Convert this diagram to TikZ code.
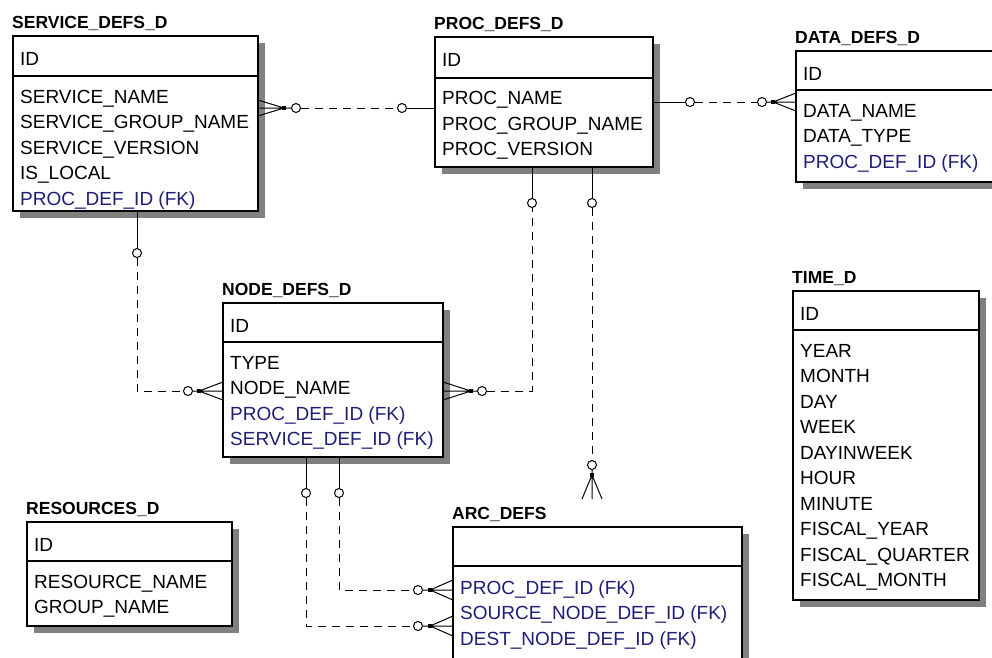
\documentclass[tikz,border=0pt]{standalone}
\usepackage{fontspec}
\setmainfont{Liberation Sans}
\usetikzlibrary{shadows}
\definecolor{fkblue}{RGB}{30,30,120}
\definecolor{shadowgray}{RGB}{128,128,128}
\newcommand\fkc{\color{fkblue}}

\tikzset{
  ent/.style={draw=black, line width=1.2pt, fill=white, rectangle, inner sep=0pt,
    outer sep=0pt, anchor=north west,
    general shadow={fill=shadowgray, shadow xshift=7pt, shadow yshift=-7pt}},
  sepline/.style={line width=1.2pt},
  ttl/.style={anchor=base west, inner sep=0pt, font=\fontsize{17.5}{20}\selectfont\bfseries},
  fld/.style={anchor=base west, inner sep=0pt, font=\fontsize{19}{22}\selectfont},
  rel/.style={line width=1pt},
  reldash/.style={line width=1pt, dash pattern=on 8pt off 6pt},
  opt/.style={circle, draw=black, fill=white, line width=1pt, minimum size=9pt, inner sep=0pt},
  knot/.style={rectangle, fill=black, minimum size=4pt, inner sep=0pt},
}

% entity box: name, left, top, right, separator, bottom, title, key
\newcommand\erentity[8]{%
  \node[ent, minimum width={(#4-#2)*1pt}, minimum height={(#6-#3)*1pt}] (#1) at (#2,#3) {};
  \draw[sepline] (#1.west |- 0,#5) -- (#1.east |- 0,#5);
  \node[ttl] (#1-title) at (#2-1,#3-8) {#7};
  \node[fld] (#1-key) at (#2+7,#3+29) {#8};
}
% attribute rows: name, x, first baseline, list
\newcommand\erfields[4]{%
  \foreach \f [count=\i from 0] in {#4}
    \node[fld] (#1-f\i) at (#2,#3+25.5*\i) {\f};
}

\begin{document}
\begin{tikzpicture}[x=1pt, y=-1pt]
\useasboundingbox (0,0) rectangle (992,657);
\fill[white] (0,0) rectangle (992,657);

% ---------- entities ----------
\erentity{svc}{13}{36}{258}{76}{211}{SERVICE\_DEFS\_D}{ID}
\erfields{svc}{20}{103}{SERVICE\_NAME, SERVICE\_GROUP\_NAME, SERVICE\_VERSION, IS\_LOCAL, {\fkc PROC\_DEF\_ID (FK)}}

\erentity{proc}{435}{37}{653}{78}{167}{PROC\_DEFS\_D}{ID}
\erfields{proc}{442}{104.5}{PROC\_NAME, PROC\_GROUP\_NAME, PROC\_VERSION}

\erentity{data}{796}{51}{1000}{90}{182}{DATA\_DEFS\_D}{ID}
\erfields{data}{803}{117}{DATA\_NAME, DATA\_TYPE, {\fkc PROC\_DEF\_ID (FK)}}

\erentity{nd}{223}{303}{443}{342}{457}{NODE\_DEFS\_D}{ID}
\erfields{nd}{230}{369}{TYPE, NODE\_NAME, {\fkc PROC\_DEF\_ID (FK)}, {\fkc SERVICE\_DEF\_ID (FK)}}

\erentity{res}{27}{522}{232}{561}{626}{RESOURCES\_D}{ID}
\erfields{res}{34}{588}{RESOURCE\_NAME, GROUP\_NAME}

\erentity{tm}{793}{291}{979}{330}{600}{TIME\_D}{ID}
\erfields{tm}{800}{357}{YEAR, MONTH, DAY, WEEK, DAYINWEEK, HOUR, MINUTE, FISCAL\_YEAR, FISCAL\_QUARTER, FISCAL\_MONTH}

\erentity{arc}{453}{527}{742}{566}{668}{ARC\_DEFS}{}
\erfields{arc}{460}{594}{{\fkc PROC\_DEF\_ID (FK)}, {\fkc SOURCE\_NODE\_DEF\_ID (FK)}, {\fkc DEST\_NODE\_DEF\_ID (FK)}}

% ---------- relationships ----------
% PROC_DEFS_D -> SERVICE_DEFS_D
\node[knot] (k1) at (284,108) {};
\node[opt] (o1a) at (296,108) {};
\node[opt] (o1b) at (402,108) {};
\draw[rel] (svc.east |- 0,100) -- (k1.center) -- (svc.east |- 0,116)
           (svc.east |- k1) -- (k1.center) -- (o1a);
\draw[reldash] (o1a) -- (o1b);
\draw[rel] (o1b) -- (o1b -| proc.west);

% PROC_DEFS_D -> DATA_DEFS_D
\node[opt] (o2a) at (690,102) {};
\node[opt] (o2b) at (762,102) {};
\node[knot] (k2) at (773,102) {};
\draw[rel] (o2a -| proc.east) -- (o2a);
\draw[reldash] (o2a) -- (o2b);
\draw[rel] (o2b) -- (k2.center) -- (data.west |- 0,93)
           (k2.center) -- (data.west |- 0,111)
           (k2.center) -- (data.west |- k2);

% SERVICE_DEFS_D -> NODE_DEFS_D
\node[opt] (o3a) at (137,253) {};
\coordinate (b3) at (137,391);
\node[opt] (o3b) at (188,391) {};
\node[knot] (k3) at (199,391) {};
\draw[rel] (svc.south -| o3a) -- (o3a);
\draw[reldash] (o3a) -- (b3) -- (o3b);
\draw[rel] (o3b) -- (k3.center) -- (nd.west |- 0,382)
           (k3.center) -- (nd.west |- 0,400)
           (k3.center) -- (nd.west |- k3);

% PROC_DEFS_D -> NODE_DEFS_D
\node[knot] (k4) at (471,391) {};
\node[opt] (o4a) at (482,391) {};
\coordinate (b4) at (532,391);
\node[opt] (o4b) at (532,203) {};
\draw[rel] (nd.east |- 0,382) -- (k4.center) -- (nd.east |- 0,400)
           (nd.east |- k4) -- (k4.center) -- (o4a);
\draw[reldash] (o4a) -- (b4) -- (o4b);
\draw[rel] (o4b) -- (proc.south -| o4b);

% PROC_DEFS_D -> ARC_DEFS
\node[opt] (o5a) at (592,203) {};
\node[opt] (o5b) at (592,465) {};
\node[knot] (k5) at (592,475) {};
\coordinate (f5a) at (582,499);
\coordinate (f5b) at (592,499);
\coordinate (f5c) at (602,499);
\draw[rel] (proc.south -| o5a) -- (o5a);
\draw[reldash] (o5a) -- (o5b);
\draw[rel] (o5b) -- (k5.center) -- (f5a) (k5.center) -- (f5b) (k5.center) -- (f5c);

% NODE_DEFS_D -> ARC_DEFS (source)
\node[opt] (o6a) at (339,493) {};
\coordinate (b6) at (339,590);
\node[opt] (o6b) at (418,590) {};
\node[knot] (k6) at (430,590) {};
\draw[rel] (nd.south -| o6a) -- (o6a);
\draw[reldash] (o6a) -- (b6) -- (o6b);
\draw[rel] (o6b) -- (k6.center) -- (arc.west |- 0,580)
           (k6.center) -- (arc.west |- 0,600)
           (k6.center) -- (arc.west |- k6);

% NODE_DEFS_D -> ARC_DEFS (destination)
\node[opt] (o7a) at (306,493) {};
\coordinate (b7) at (306,626);
\node[opt] (o7b) at (418,626) {};
\node[knot] (k7) at (430,626) {};
\draw[rel] (nd.south -| o7a) -- (o7a);
\draw[reldash] (o7a) -- (b7) -- (o7b);
\draw[rel] (o7b) -- (k7.center) -- (arc.west |- 0,616)
           (k7.center) -- (arc.west |- 0,636)
           (k7.center) -- (arc.west |- k7);
\end{tikzpicture}
\end{document}
